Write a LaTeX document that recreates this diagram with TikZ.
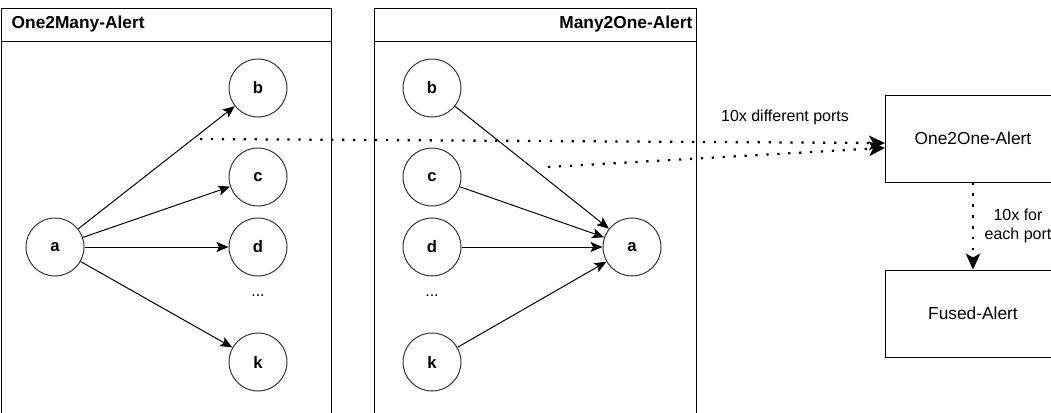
\documentclass[tikz,border=0pt]{standalone}
\usepackage{fontspec}
\setmainfont{Liberation Sans}
\usetikzlibrary{arrows.meta}

\begin{document}
\begin{tikzpicture}[x=0.75pt,y=-0.75pt,>={Stealth[length=9pt,width=7.5pt,inset=2pt]},
	  every node/.style={font=\fontsize{12}{14}\selectfont},
	  vert/.style={circle,draw,line width=0.75pt,draw=black!80,minimum size=43.5pt,inner sep=0pt,font=\fontsize{12.5}{14}\selectfont\bfseries},
	  title/.style={font=\fontsize{13}{15}\selectfont\bfseries},
	  alertbox/.style={draw,line width=0.75pt,minimum width=131.25pt,minimum height=65.25pt,font=\fontsize{13}{15}\selectfont},
	  dots/.style={line width=1.7pt,dash pattern=on 1.7pt off 6.5pt,-{Stealth[length=12pt,width=11pt,inset=3pt]}}]
	  \useasboundingbox (0,0) rectangle (1051,412);
	  \clip (0,0) rectangle (1051,412);
	  % containers
	  \draw[line width=0.75pt] (1,8) rectangle (331,430);
	  \draw[line width=0.75pt] (1,41) -- (331,41);
	  \draw[line width=0.75pt] (374,8) rectangle (696,430);
	  \draw[line width=0.75pt] (374,41) -- (696,41);
	  \node[title,anchor=west] (t1) at (7,24) {One2Many-Alert};
	  \node[title,anchor=east] (t2) at (697,24) {Many2One-Alert};
	  % one to many
	  \node[vert] (a) at (55,247) {a};
	  \node[vert] (b) at (258,88) {b};
	  \node[vert] (c) at (258,177) {c};
	  \node[vert] (d) at (258,247) {d};
	  \node (more) at (258,296) {...};
	  \node[vert] (k) at (258,362) {k};
	  \draw[->,line width=0.75pt] (a) -- (b);
	  \draw[->,line width=0.75pt] (a) -- (c);
	  \draw[->,line width=0.75pt] (a) -- (d);
	  \draw[->,line width=0.75pt] (a) -- (k);
	  % many to one
	  \node[vert] (b2) at (432,88) {b};
	  \node[vert] (c2) at (432,177) {c};
	  \node[vert] (d2) at (432,247) {d};
	  \node (more2) at (432,296) {...};
	  \node[vert] (k2) at (432,362) {k};
	  \node[vert] (a2) at (632,247) {a};
	  \draw[->,line width=0.75pt] (b2) -- (a2);
	  \draw[->,line width=0.75pt] (c2) -- (a2);
	  \draw[->,line width=0.75pt] (d2) -- (a2);
	  \draw[->,line width=0.75pt] (k2) -- (a2);
	  % alerts
	  \node[alertbox] (o2o) at (973,138.5) {One2One-Alert};
	  \node[alertbox] (fused) at (973,313.5) {Fused-Alert};
	  \coordinate (s1) at (200,139);
	  \coordinate (s2) at (548,167);
	  \draw[dots] (s1) -- ([yshift=-3.4pt]o2o.west);
	  \draw[dots] (s2) -- ([yshift=-7pt]o2o.west);
	  \node (ports) at (785,117) {10x different ports};
	  \draw[dots] (o2o) -- (fused);
	  \node[align=center] (each) at (1018,226) {10x for\\each port};
\end{tikzpicture}
\end{document}
